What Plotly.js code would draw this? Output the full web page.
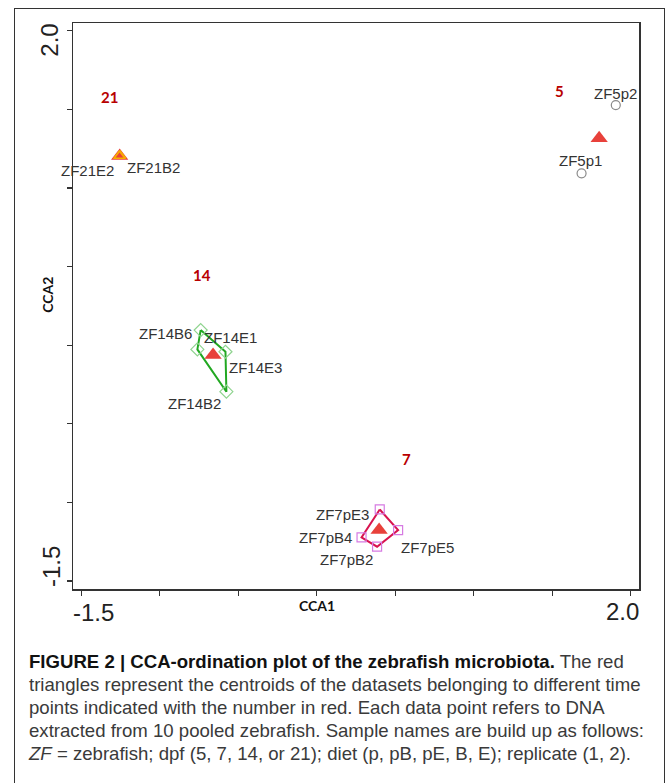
<!DOCTYPE html>
<html>
<head>
<meta charset="utf-8">
<script src="https://cdn.plot.ly/plotly-3.0.1.min.js"></script>
<style>
  html, body { margin: 0; padding: 0; width: 667px; height: 783px; overflow: hidden; background: #fff; }
  #frame { position: absolute; left: 14px; top: 8px; width: 649px; height: 800px;
           border-left: 1.5px solid #333; border-top: 1.5px solid #333; border-right: 1.5px solid #333; }
  #chart { position: absolute; left: 0; top: 0; width: 667px; height: 783px; }
  #caption { position: absolute; left: 29px; top: 650px; font-family: "Liberation Sans", Arial, sans-serif;
             font-size: 18.6px; line-height: 23px; color: #3a3a3a; white-space: nowrap; }
  #caption b { color: #111; }
</style>
</head>
<body>
<div id="frame"></div>
<div id="chart"></div>
<div id="caption"><b>FIGURE 2 | CCA-ordination plot of the zebrafish microbiota.</b> The red<br>triangles represent the centroids of the datasets belonging to different time<br>points indicated with the number in red. Each data point refers to DNA<br>extracted from 10 pooled zebrafish. Sample names are build up as follows:<br><i>ZF</i> = zebrafish; dpf (5, 7, 14, or 21); diet (p, pB, pE, B, E); replicate (1, 2).</div>
<script>
// ---- data (CCA1 / CCA2 scores) ----
const g5Names = ['ZF5p1', 'ZF5p2'];
const g5X = [1.687, 1.905];
const g5Y = [1.093, 1.527];

const g7Names = ['ZF7pE3', 'ZF7pE5', 'ZF7pB2', 'ZF7pB4'];   // hull order
const g7X = [0.401, 0.518, 0.384, 0.285];
const g7Y = [-1.045, -1.176, -1.282, -1.223];

const g14Names = ['ZF14B6', 'ZF14E1', 'ZF14B2', 'ZF14E3'];  // hull order
const g14X = [-0.740, -0.761, -0.576, -0.582];
const g14Y = [0.096, -0.027, -0.296, -0.042];

const g21Names = ['ZF21E2', 'ZF21B2'];
const g21X = [-1.259, -1.253];
const g21Y = [1.203, 1.205];

const centroidDays = ['5', '7', '14', '21'];
const centroidX = [1.799, 0.397, -0.661, -1.256];
const centroidY = [1.316, -1.176, -0.063, 1.203];

const dayLabelX = [1.544, 0.571, -0.729, -1.320];
const dayLabelY = [1.618, -0.726, 0.446, 1.576];

const tickVals = [-1.5, -1.0, -0.5, 0.0, 0.5, 1.0, 1.5, 2.0];
const endTickLabels = ['-1.5', '2.0'];

// label offsets (pixels) relative to each sample point
const labelShift = {
  'ZF5p1': [-1, 13], 'ZF5p2': [0, 12],
  'ZF21E2': [-32, -14], 'ZF21B2': [33, -12],
  'ZF14B6': [-35, -3], 'ZF14E1': [33, 12], 'ZF14E3': [30, -16], 'ZF14B2': [-32, -12],
  'ZF7pE3': [-37, -5], 'ZF7pB4': [-36, 0], 'ZF7pE5': [29, -17], 'ZF7pB2': [-31, -13]
};

const closed = a => a.concat([a[0]]);

const traces = [
  { x: closed(g14X), y: closed(g14Y), mode: 'lines', line: { color: '#22a822', width: 2 }, hoverinfo: 'skip' },
  { x: closed(g7X), y: closed(g7Y), mode: 'lines', line: { color: '#d8134f', width: 2 }, hoverinfo: 'skip' },
  { x: g5X, y: g5Y, text: g5Names, mode: 'markers',
    marker: { symbol: 'circle-open', size: 9, color: '#8a8a8a', line: { width: 1.2 } } },
  { x: g14X, y: g14Y, text: g14Names, mode: 'markers',
    marker: { symbol: 'diamond-open', size: 10, color: '#8fd48f', line: { width: 1.2 } } },
  { x: g7X, y: g7Y, text: g7Names, mode: 'markers',
    marker: { symbol: 'square-open', size: 9, color: '#d67be2', line: { width: 1.2 } } },
  { x: centroidX, y: centroidY, text: centroidDays, mode: 'markers',
    marker: { symbol: 'triangle-up', size: 15, color: '#e8413b', line: { width: 0 } } },
  { x: g21X, y: g21Y, text: g21Names, mode: 'markers',
    marker: { symbol: 'triangle-up-open', size: 10, color: '#f7b000', line: { width: 1.2 } } }
];

const annotations = [];
function addSampleLabels(names, xs, ys) {
  names.forEach((n, i) => {
    const s = labelShift[n];
    annotations.push({ x: xs[i], y: ys[i], xref: 'x', yref: 'y', text: n, showarrow: false,
      xshift: s[0], yshift: s[1], xanchor: 'center', yanchor: 'middle',
      font: { family: 'Liberation Sans, Arial, sans-serif', size: 15, color: '#333' } });
  });
}
addSampleLabels(g5Names, g5X, g5Y);
addSampleLabels(g21Names, g21X, g21Y);
addSampleLabels(g14Names, g14X, g14Y);
addSampleLabels(g7Names, g7X, g7Y);

centroidDays.forEach((d, i) => {
  annotations.push({ x: dayLabelX[i], y: dayLabelY[i], xref: 'x', yref: 'y', text: '<b>' + d + '</b>',
    showarrow: false, xanchor: 'center', yanchor: 'middle',
    font: { family: 'Lato, sans-serif', size: 15, color: '#b80000' } });
});

const tickFont = { family: 'Liberation Sans, Arial, sans-serif', size: 24, color: '#222' };
// x end tick labels
annotations.push({ x: tickVals[0], xref: 'x', y: 0, yref: 'paper', text: endTickLabels[0], showarrow: false,
  xanchor: 'center', yanchor: 'middle', xshift: 12, yshift: -23, font: tickFont });
annotations.push({ x: tickVals[tickVals.length - 1], xref: 'x', y: 0, yref: 'paper', text: endTickLabels[1], showarrow: false,
  xanchor: 'center', yanchor: 'middle', xshift: -8, yshift: -22, font: tickFont });
// y end tick labels (rotated)
annotations.push({ x: 0, xref: 'paper', y: tickVals[tickVals.length - 1], yref: 'y', text: endTickLabels[1], showarrow: false,
  textangle: -90, xanchor: 'center', yanchor: 'middle', xshift: -23, yshift: -10, font: tickFont });
annotations.push({ x: 0, xref: 'paper', y: tickVals[0], yref: 'y', text: endTickLabels[0], showarrow: false,
  textangle: -90, xanchor: 'center', yanchor: 'middle', xshift: -22, yshift: 14, font: tickFont });
// axis titles
const titleFont = { family: 'Lato, sans-serif', size: 14, color: '#111' };
annotations.push({ x: 0, xref: 'x', y: 0, yref: 'paper', text: '<b>CCA1</b>', showarrow: false,
  xanchor: 'center', yanchor: 'middle', yshift: -16, font: titleFont });
annotations.push({ x: 0, xref: 'paper', y: 0.32, yref: 'y', text: '<b>CCA2</b>', showarrow: false,
  textangle: -90, xanchor: 'center', yanchor: 'middle', xshift: -25, font: titleFont });

const axisBase = {
  tickvals: tickVals, showticklabels: false, ticks: 'outside', ticklen: 5, tickwidth: 1.2, tickcolor: '#333',
  showline: true, mirror: true, linecolor: '#333', linewidth: 1.5, showgrid: false, zeroline: false, fixedrange: true
};

const layout = {
  width: 667, height: 783,
  margin: { l: 73.3, r: 27.7, t: 23, b: 194, pad: 0 },
  paper_bgcolor: 'rgba(0,0,0,0)', plot_bgcolor: 'rgba(0,0,0,0)',
  showlegend: false,
  xaxis: Object.assign({}, axisBase, { range: [-1.5535, 2.0529] }),
  yaxis: Object.assign({}, axisBase, { range: [-1.5509, 2.049] }),
  annotations: annotations
};

Plotly.newPlot('chart', traces, layout, { displayModeBar: false, staticPlot: true });
</script>
</body>
</html>
